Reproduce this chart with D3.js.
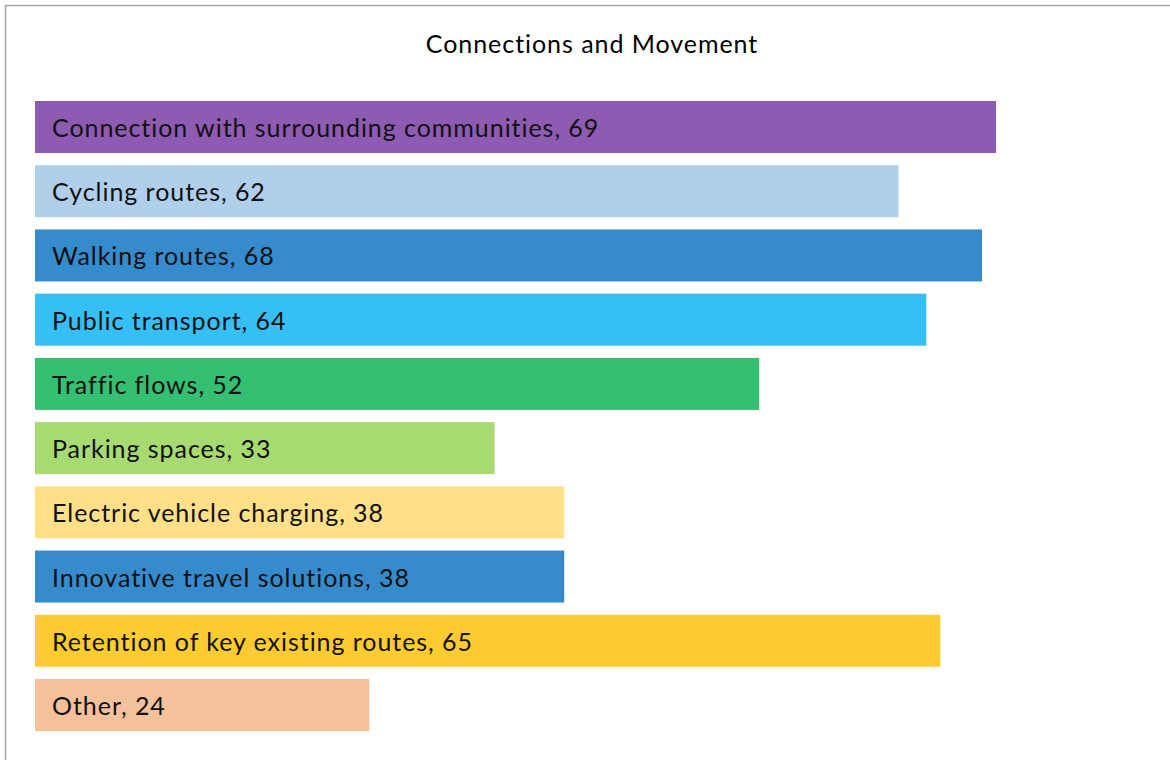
<!DOCTYPE html>
<html>
<head>
<meta charset="utf-8">
<script src="https://cdn.jsdelivr.net/npm/d3@7"></script>
<style>
  html, body { margin: 0; padding: 0; background: #fff; }
  svg { display: block; }
</style>
</head>
<body>
<svg id="chart" width="1170" height="760"></svg>
<script>
// Survey topics and number of responses for each
const categories = [
  "Connection with surrounding communities",
  "Cycling routes",
  "Walking routes",
  "Public transport",
  "Traffic flows",
  "Parking spaces",
  "Electric vehicle charging",
  "Innovative travel solutions",
  "Retention of key existing routes",
  "Other"
];
const values = [69, 62, 68, 64, 52, 33, 38, 38, 65, 24];
const colors = [
  "#8D5BB1", "#B0CFEB", "#358BCB", "#35BFF4", "#34BF73",
  "#A8DA72", "#FFDF88", "#358BCB", "#FFCB30", "#F5C19B"
];
const title = "Connections and Movement";

const svg = d3.select("#chart");
const W = 1170, H = 760;
const FONT = "Lato, 'Noto Sans', sans-serif";
const FONT_SIZE = 25;
const SPACING = "0.95px";

// outer frame
svg.append("rect")
  .attr("x", 5.5).attr("y", 5.5)
  .attr("width", W + 10).attr("height", H + 10)
  .attr("fill", "#fff")
  .attr("stroke", "#a6a6a6")
  .attr("stroke-width", 1.5);

const x = d3.scaleLinear().domain([0, 80]).range([35, 35 + 80 * (961 / 69)]);
const y = d3.scaleBand()
  .domain(d3.range(categories.length))
  .range([94.9, 737.1])
  .paddingInner(0.19)
  .paddingOuter(0.095);

svg.append("text")
  .attr("x", 592).attr("y", 53)
  .attr("text-anchor", "middle")
  .attr("font-family", FONT)
  .attr("font-size", FONT_SIZE)
  .attr("letter-spacing", SPACING)
  .attr("fill", "#000")
  .text(title);

const rows = svg.append("g").selectAll("g")
  .data(categories.map((c, i) => ({ c, v: values[i], col: colors[i], i })))
  .join("g");

rows.append("rect")
  .attr("x", x(0))
  .attr("y", d => y(d.i))
  .attr("width", d => x(d.v) - x(0))
  .attr("height", y.bandwidth())
  .attr("fill", d => d.col);

rows.append("text")
  .attr("x", x(0) + 17)
  .attr("y", d => y(d.i) + y.bandwidth() / 2)
  .attr("dy", "0.4em")
  .attr("font-family", FONT)
  .attr("font-size", FONT_SIZE)
  .attr("letter-spacing", SPACING)
  .attr("fill", "#111")
  .text(d => `${d.c}, ${d.v}`);
</script>
</body>
</html>
